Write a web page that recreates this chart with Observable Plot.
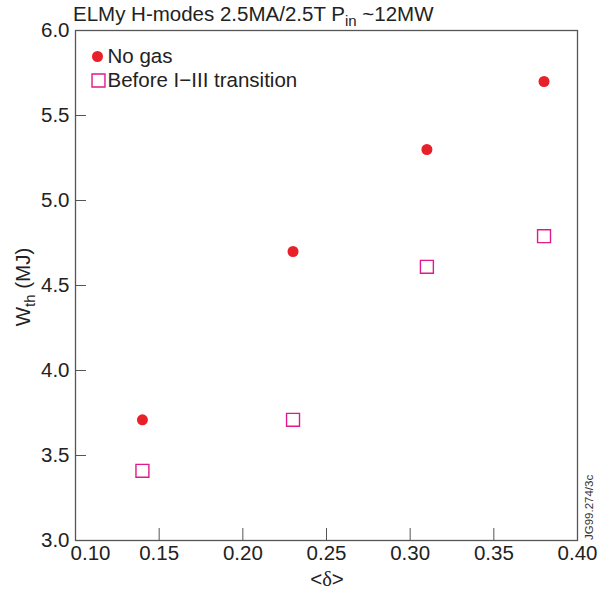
<!DOCTYPE html>
<html><head><meta charset="utf-8">
<script src="https://cdn.jsdelivr.net/npm/d3@7"></script>
<script src="https://cdn.jsdelivr.net/npm/@observablehq/plot@0.6"></script>
<style>body{margin:0;background:#fff}</style>
</head><body><div id="chart"></div>
<script>
const delta = [0.14, 0.23, 0.31, 0.38];
const noGas = [3.71, 4.70, 5.30, 5.70];
const beforeTransition = [3.41, 3.71, 4.61, 4.79];
const xTicks = [0.10, 0.15, 0.20, 0.25, 0.30, 0.35, 0.40];
const yTicks = [3.0, 3.5, 4.0, 4.5, 5.0, 5.5, 6.0];
const seriesNames = ["No gas", "Before I\u2212III transition"];
const titleParts = ["ELMy H-modes 2.5MA/2.5T P", "in", " ~12MW"];
const yLabelParts = ["W", "th", " (MJ)"];
const xLabelParts = ["<", "\u03b4", ">"];
const watermark = "JG99.274/3c";

const red = "#e8202a", magenta = "#e0198c", axisColor = "#555";
const rowsA = delta.map((d, i) => ({delta: d, w: noGas[i]}));
const rowsB = delta.map((d, i) => ({delta: d, w: beforeTransition[i]}));

function richText(parts, attrs, subSize, subShift, midFont) {
  return () => {
    const t = d3.create("svg:text");
    for (const [k, v] of Object.entries(attrs)) t.attr(k, v);
    t.append("tspan").text(parts[0]);
    const s = t.append("tspan").text(parts[1]);
    if (subSize) s.attr("font-size", subSize).attr("dy", subShift);
    if (midFont) s.attr("font-family", midFont);
    const e = t.append("tspan").text(parts[2]);
    if (subSize) e.attr("dy", -subShift);
    return t.node();
  };
}

const chart = Plot.plot({
  width: 607, height: 592,
  marginLeft: 75, marginRight: 30, marginTop: 30, marginBottom: 52,
  style: {fontFamily: "'Liberation Sans', Arial, sans-serif", fontSize: "20.5px", color: "#222", background: "#fff"},
  x: {domain: [0.1, 0.4]},
  y: {domain: [3, 6]},
  marks: [
    Plot.frame({stroke: axisColor, strokeWidth: 1.3}),
    Plot.axisX(xTicks, {tickSize: 12, dy: -12, fill: "none", stroke: axisColor, label: null}),
    Plot.axisY(yTicks, {tickSize: 11, dx: 11, fill: "none", stroke: axisColor, label: null}),
    Plot.axisX(xTicks.slice(1), {tickSize: 0, tickPadding: 5, tickFormat: d => d.toFixed(2), label: null}),
    Plot.axisX(xTicks.slice(0, 1), {tickSize: 0, tickPadding: 5, dx: 15, tickFormat: d => d.toFixed(2), label: null}),
    Plot.axisY(yTicks, {tickSize: 0, tickPadding: 6, tickFormat: d => d.toFixed(1), label: null}),
    Plot.dot(rowsA, {x: "delta", y: "w", r: 5.5, fill: red}),
    Plot.dot(rowsB, {x: "delta", y: "w", symbol: "square", r: 7.3, stroke: magenta, strokeWidth: 1.4, fill: "none"}),
    Plot.dot([seriesNames[0]], {frameAnchor: "top-left", dx: 22, dy: 26, r: 5.5, fill: red}),
    Plot.dot([seriesNames[1]], {frameAnchor: "top-left", dx: 23, dy: 50, symbol: "square", r: 7.3, stroke: magenta, strokeWidth: 1.4, fill: "none"}),
    Plot.text([seriesNames[0]], {frameAnchor: "top-left", dx: 32, dy: 26, text: d => d, textAnchor: "start", lineAnchor: "middle", fontSize: 20.5}),
    Plot.text([seriesNames[1]], {frameAnchor: "top-left", dx: 32, dy: 50, text: d => d, textAnchor: "start", lineAnchor: "middle", fontSize: 20.5}),
    richText(titleParts, {x: 73, y: 21, "text-anchor": "start", fill: "#222", "font-size": 20.5}, 15, 5),
    richText(yLabelParts, {transform: "translate(30,287) rotate(-90)", "text-anchor": "middle", fill: "#222", "font-size": 20.5}, 15, 5),
    richText(xLabelParts, {x: 327, y: 586, "text-anchor": "middle", fill: "#222", "font-size": 20.5}, null, 0, "'Liberation Serif', serif"),
    () => d3.create("svg:text").attr("transform", "translate(593,540) rotate(-90)").attr("text-anchor", "start").attr("font-size", 11.5).attr("fill", "#333").text(watermark).node()
  ]
});
document.getElementById("chart").append(chart);
</script>
</body></html>
